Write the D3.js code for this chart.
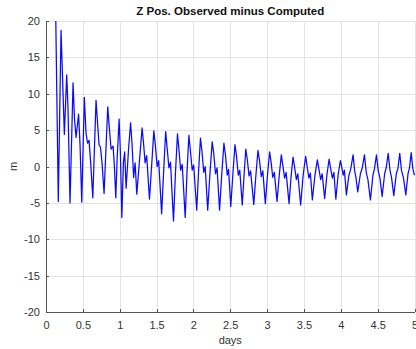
<!DOCTYPE html>
<html>
<head>
<meta charset="utf-8">
<script src="https://cdn.jsdelivr.net/npm/d3@7"></script>
<style>
  body { margin: 0; background: #fff; }
  svg { display: block; font-family: "Liberation Sans", Arial, sans-serif; }
</style>
</head>
<body>
<div id="chart"></div>
<script>
const obsDays = [
  0.133, 0.167, 0.204, 0.221, 0.249, 0.281, 0.299, 0.326,
  0.367, 0.387, 0.408, 0.442, 0.462, 0.485,
  0.520, 0.543, 0.564, 0.584, 0.605, 0.635,
  0.679, 0.700, 0.720, 0.740, 0.761, 0.788,
  0.838, 0.860, 0.883, 0.910, 0.928, 0.947,
  0.965, 0.992, 1.009, 1.029, 1.050, 1.067, 1.087,
  1.121, 1.148, 1.168, 1.189, 1.209, 1.232,
  1.268, 1.304, 1.325, 1.345, 1.366, 1.404,
  1.434, 1.463, 1.485, 1.508, 1.529, 1.569,
  1.597, 1.624, 1.644, 1.668, 1.689, 1.730,
  1.757, 1.784, 1.804, 1.827, 1.848, 1.889,
  1.914, 1.939, 1.959, 1.984, 2.004, 2.045,
  2.070, 2.096, 2.117, 2.140, 2.160, 2.194,
  2.225, 2.255, 2.276, 2.300, 2.321, 2.355,
  2.385, 2.414, 2.435, 2.459, 2.477, 2.507,
  2.536, 2.564, 2.584, 2.609, 2.629, 2.663,
  2.688, 2.711, 2.731, 2.755, 2.776, 2.819,
  2.848, 2.876, 2.897, 2.921, 2.942, 2.976,
  3.005, 3.034, 3.054, 3.077, 3.098, 3.135,
  3.164, 3.193, 3.213, 3.238, 3.258, 3.298,
  3.325, 3.352, 3.372, 3.397, 3.417, 3.455,
  3.489, 3.523, 3.543, 3.567, 3.587, 3.614,
  3.648, 3.682, 3.702, 3.727, 3.747, 3.781,
  3.811, 3.841, 3.861, 3.886, 3.906, 3.933,
  3.964, 3.995, 4.015, 4.033, 4.049, 4.076,
  4.110, 4.134, 4.167, 4.188, 4.205, 4.230,
  4.266, 4.291, 4.321, 4.345, 4.368, 4.402,
  4.436, 4.457, 4.484, 4.508, 4.531, 4.561,
  4.595, 4.617, 4.643, 4.667, 4.688, 4.719,
  4.753, 4.776, 4.800, 4.823, 4.851, 4.882,
  4.912, 4.932, 4.955, 4.977, 5.000
];
const zResidual = [
  20.0, -4.8, 18.7, 13.3, 4.4, 12.6, 7.8, -5.0,
  11.5, 6.5, 4.0, 7.2, 3.0, -4.9,
  9.5, 4.6, 3.2, 3.6, 0.7, -4.3,
  9.1, 5.9, 3.0, 2.6, 0.4, -3.7,
  8.2, 5.2, 2.4, 2.8, 0.0, -4.3,
  1.0, 6.5, 2.0, -7.0, 0.5, 2.0, -3.0,
  2.5, 6.0, 3.0, -1.5, 0.5, -3.8,
  0.8, 5.3, 3.0, 0.5, 1.5, -4.5,
  0.2, 4.9, 2.8, 0.0, 0.8, -6.5,
  -0.5, 4.8, 2.5, -0.2, 0.6, -7.5,
  -0.8, 4.5, 2.3, -0.5, 0.3, -7.0,
  -0.6, 4.3, 2.2, -0.5, 0.2, -6.0,
  -0.7, 3.9, 2.0, -0.8, 0.0, -6.0,
  -0.9, 3.4, 1.8, -1.0, -0.2, -6.0,
  -1.0, 3.2, 1.6, -1.2, -0.4, -5.5,
  -1.0, 3.0, 1.5, -1.2, -0.5, -5.3,
  -1.1, 2.4, 1.0, -1.3, -0.6, -5.2,
  -1.2, 2.2, 0.8, -1.4, -0.6, -5.1,
  -1.2, 2.0, 0.6, -1.5, -0.8, -4.8,
  -1.3, 1.6, 0.2, -1.6, -0.8, -5.1,
  -1.4, 1.3, 0.0, -1.8, -1.0, -5.3,
  -1.2, 1.4, 0.0, -1.6, -0.9, -4.6,
  -1.3, 0.9, -0.3, -1.8, -1.0, -4.4,
  -1.2, 1.0, -0.2, -1.6, -0.8, -4.5,
  -1.1, 0.8, -0.2, -1.2, -0.5, -3.9,
  -1.2, -0.4, 1.6, -0.6, -1.5, -3.5,
  -1.0, -0.2, 1.6, -0.8, -1.8, -4.6,
  -1.2, -0.3, 1.6, -0.6, -1.6, -4.1,
  -1.0, -0.1, 1.8, -0.5, -1.5, -4.0,
  -1.0, -0.2, 1.8, -0.5, -1.6, -3.9,
  -1.0, -0.2, 1.9, -0.3, -1.2
];
const xTicks = [0, 0.5, 1, 1.5, 2, 2.5, 3, 3.5, 4, 4.5, 5];
const yTicks = [-20, -15, -10, -5, 0, 5, 10, 15, 20];
const chartTitle = "Z Pos. Observed minus Computed";
const xLabel = "days";
const yLabel = "m";

const W = 416, H = 349;
const margin = { top: 21, right: 1.5, bottom: 37, left: 46 };
const width = W - margin.left - margin.right;
const height = H - margin.top - margin.bottom;

const svg = d3.select("#chart").append("svg")
  .attr("width", W)
  .attr("height", H);

const g = svg.append("g")
  .attr("transform", `translate(${margin.left},${margin.top})`);

const x = d3.scaleLinear().domain([0, 5]).range([0, width]);
const y = d3.scaleLinear().domain([-20, 20]).range([height, 0]);

// grid
g.append("g")
  .attr("class", "grid")
  .attr("transform", `translate(0,${height})`)
  .call(d3.axisBottom(x).tickValues(xTicks).tickSize(-height).tickFormat(""))
  .call(s => s.select(".domain").remove())
  .call(s => s.selectAll("line").attr("stroke", "#e3e3e3").attr("shape-rendering", "crispEdges"));

g.append("g")
  .attr("class", "grid")
  .call(d3.axisLeft(y).tickValues(yTicks).tickSize(-width).tickFormat(""))
  .call(s => s.select(".domain").remove())
  .call(s => s.selectAll("line").attr("stroke", "#e3e3e3").attr("shape-rendering", "crispEdges"));

// data line
const series = obsDays.map((d, i) => ({ t: d, z: zResidual[i] }));
const line = d3.line().x(d => x(d.t)).y(d => y(d.z));

g.append("path")
  .datum(series)
  .attr("fill", "none")
  .attr("stroke", "#0a0aff")
  .attr("stroke-width", 1.25)
  .attr("stroke-linejoin", "round")
  .attr("d", line);

// axes, ticks point inward like matlab
const xAxis = g.append("g")
  .attr("transform", `translate(0,${height})`)
  .call(d3.axisBottom(x).tickValues(xTicks).tickSizeInner(-3).tickSizeOuter(0)
    .tickPadding(9).tickFormat(d => String(d)));

const yAxis = g.append("g")
  .call(d3.axisLeft(y).tickValues(yTicks).tickSizeInner(-3).tickSizeOuter(0)
    .tickPadding(6).tickFormat(d => String(d)));

[xAxis, yAxis].forEach(a => {
  a.select(".domain").attr("stroke", "#555").attr("shape-rendering", "crispEdges");
  a.selectAll(".tick line").attr("stroke", "#555").attr("shape-rendering", "crispEdges");
  a.selectAll("text")
    .attr("fill", "#333")
    .style("font-size", "11px")
    .style("font-family", "Liberation Sans, Arial, sans-serif");
});

// title and labels
svg.append("text")
  .attr("x", margin.left + width / 2)
  .attr("y", 15)
  .attr("text-anchor", "middle")
  .style("font-size", "11.5px")
  .style("font-weight", "bold")
  .attr("fill", "#111")
  .text(chartTitle);

svg.append("text")
  .attr("x", margin.left + width / 2)
  .attr("y", 344)
  .attr("text-anchor", "middle")
  .style("font-size", "11px")
  .attr("fill", "#333")
  .text(xLabel);

svg.append("text")
  .attr("transform", `translate(17,${margin.top + height / 2}) rotate(-90)`)
  .attr("text-anchor", "middle")
  .style("font-size", "11px")
  .attr("fill", "#333")
  .text(yLabel);
</script>
</body>
</html>
